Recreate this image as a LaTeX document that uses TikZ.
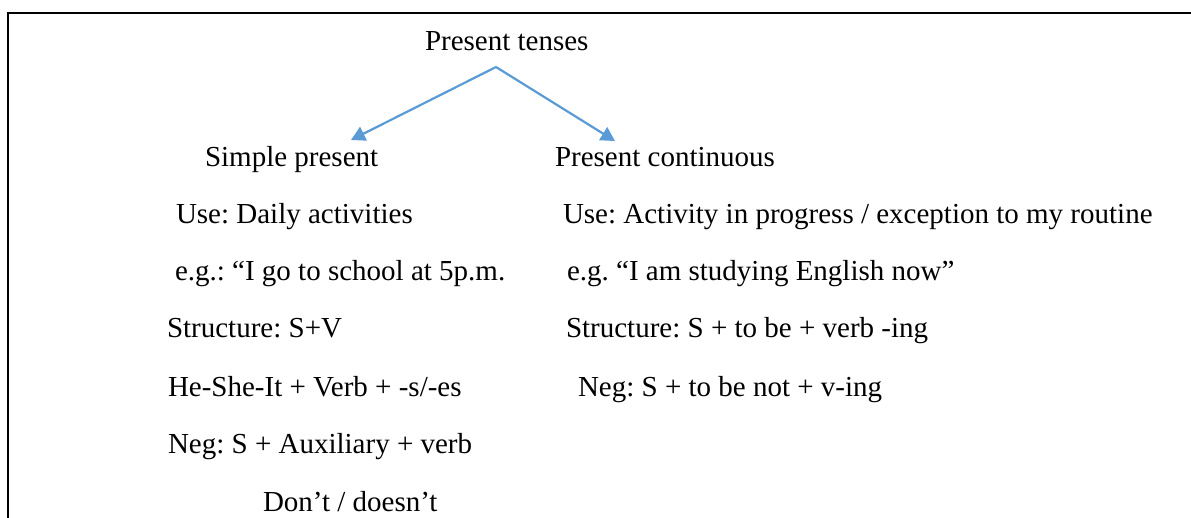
\documentclass[tikz,border=0pt]{standalone}
\usepackage{fontspec}
\setmainfont{Liberation Serif}
\usetikzlibrary{arrows.meta}
\definecolor{wordblue}{HTML}{5B9BD5}
\frenchspacing
\tikzset{
  txt/.style={anchor=base west, inner sep=0pt, outer sep=0pt, font=\fontsize{29}{34}\selectfont\frenchspacing},
  conn/.style={draw=wordblue, line width=2.2pt, -{Triangle[length=14pt,width=15pt]}},
  frame/.style={draw=black, line width=2pt}
}
\begin{document}
\begin{tikzpicture}[x=1pt,y=-1pt]
\useasboundingbox (0,0) rectangle (1191,517);
\clip (0,0) rectangle (1191,517);
\fill[white] (0,0) rectangle (1191,517);
\draw[frame] (8,12.5) rectangle (1220,560);
% title
\node[txt] (top) at (425,50) {Present tenses};
% left column
\node[txt] (sp) at (205,166) {Simple present};
\node[txt] (l1) at (176,223) {Use: Daily activities};
\node[txt] (l2) at (175,280) {e.g.: “I go to school at 5p.m.};
\node[txt] (l3) at (167,337) {Structure: S+V};
\node[txt] (l4) at (168,396) {He-She-It + Verb + -s/-es};
\node[txt] (l5) at (168,453) {Neg: S + Auxiliary + verb};
\node[txt] (l6) at (263,511) {Don’t / doesn’t};
% right column
\node[txt] (pc) at (555,166) {Present continuous};
\node[txt] (r1) at (563,223) {Use: Activity in progress / exception to my routine};
\node[txt] (r2) at (567,280) {e.g. “I am studying English now”};
\node[txt] (r3) at (566,337) {Structure: S + to be + verb -ing};
\node[txt] (r4) at (578,396) {Neg: S + to be not + v-ing};
% connectors
\coordinate (apex) at (496,67);
\coordinate (tipL) at (351,140);
\coordinate (tipR) at (615,141);
\draw[conn] (apex) -- (tipL);
\draw[conn] (apex) -- (tipR);
\end{tikzpicture}
\end{document}
